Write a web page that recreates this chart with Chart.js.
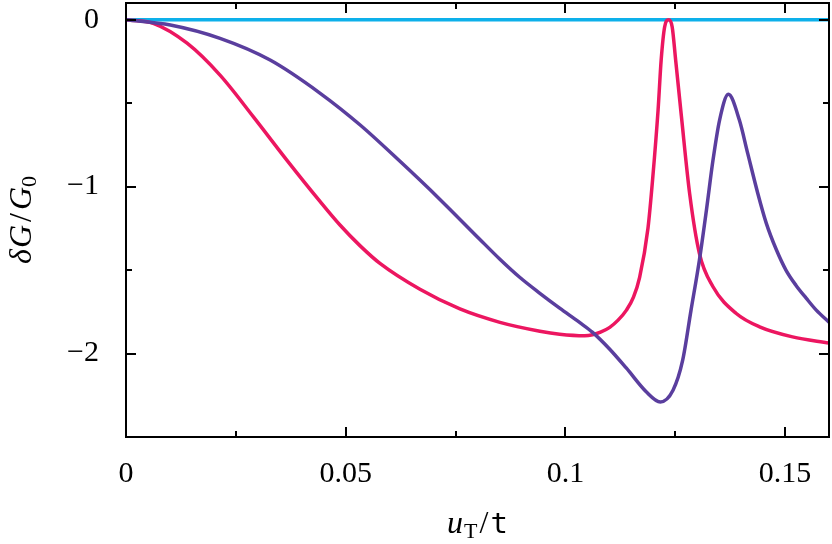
<!DOCTYPE html>
<html>
<head>
<meta charset="utf-8">
<title>dG/G0 vs uT/t</title>
<script src="https://cdn.jsdelivr.net/npm/chart.js@4.4.1/dist/chart.umd.min.js"></script>
<style>
  body { margin: 0; background: #fff; }
</style>
</head>
<body>
<canvas id="myChart" width="832" height="544"></canvas>
<script>
  // values
  const cyanX = [0, 0.16];
  const cyanY = [0, 0];

  const redX = [0, 0.0062, 0.0139, 0.0214, 0.0290, 0.0366, 0.0442, 0.0487, 0.0533, 0.0578, 0.0669,
    0.0760, 0.0851, 0.0942, 0.0987, 0.1044, 0.1062, 0.1080, 0.1101, 0.1120, 0.1139, 0.1155, 0.1169,
    0.1188, 0.1199, 0.1211, 0.1218, 0.1226, 0.1235, 0.1243, 0.1251, 0.1264, 0.1283, 0.1305, 0.1336,
    0.1389, 0.1442, 0.1517, 0.16];
  const redY = [0, -0.022, -0.141, -0.332, -0.582, -0.841, -1.090, -1.230, -1.355, -1.460, -1.615,
    -1.733, -1.813, -1.866, -1.884, -1.893, -1.887, -1.872, -1.843, -1.800, -1.740, -1.662, -1.543,
    -1.249, -0.943, -0.541, -0.242, -0.042, 0, -0.042, -0.242, -0.577, -1.045, -1.400, -1.600,
    -1.760, -1.840, -1.900, -1.937];

  const purpleX = [0, 0.0101, 0.0214, 0.0328, 0.0442, 0.0533, 0.0623, 0.0714, 0.0805, 0.0851, 0.0896,
    0.0942, 0.0987, 0.1033, 0.1062, 0.1101, 0.1139, 0.1184, 0.1216, 0.1245, 0.1267, 0.1286, 0.1305,
    0.1321, 0.1336, 0.1351, 0.1371, 0.1396, 0.1415, 0.1438, 0.1457, 0.1480, 0.1502, 0.1525, 0.1548,
    0.1571, 0.16];
  const purpleY = [0, -0.032, -0.112, -0.242, -0.441, -0.631, -0.847, -1.075, -1.315, -1.435, -1.543,
    -1.639, -1.728, -1.815, -1.873, -1.974, -2.088, -2.229, -2.290, -2.220, -2.040, -1.740, -1.441,
    -1.141, -0.841, -0.601, -0.447, -0.601, -0.801, -1.041, -1.217, -1.377, -1.500, -1.592, -1.668,
    -1.740, -1.812];

  const xTickLabels = ['0', '0.05', '0.1', '0.15'];
  const yTickLabels = ['0', '−1', '−2'];

  const toPoints = (xs, ys) => xs.map((x, i) => ({x: x, y: ys[i]}));

  const serif = '"Liberation Serif", "DejaVu Serif", serif';

  // gnuplot-like frame with inward ticks on all four sides
  const frameTicks = {
    id: 'frameTicks',
    afterDatasetsDraw(chart) {
      const {ctx, chartArea: a, scales: {x, y}} = chart;
      ctx.save();
      ctx.strokeStyle = '#000';
      ctx.lineWidth = 2;
      ctx.beginPath();
      x.ticks.forEach(t => {
        const px = Math.round(x.getPixelForValue(t.value));
        const major = Math.abs(t.value * 20 - Math.round(t.value * 20)) < 1e-6;
        const len = major ? 10 : 6;
        ctx.moveTo(px, a.bottom); ctx.lineTo(px, a.bottom - len);
        ctx.moveTo(px, a.top); ctx.lineTo(px, a.top + len);
      });
      y.ticks.forEach(t => {
        const py = Math.round(y.getPixelForValue(t.value));
        const major = Number.isInteger(t.value);
        const len = major ? 10 : 6;
        ctx.moveTo(a.left, py); ctx.lineTo(a.left + len, py);
        ctx.moveTo(a.right, py); ctx.lineTo(a.right - len, py);
      });
      ctx.stroke();
      ctx.strokeRect(a.left, a.top, a.right - a.left, a.bottom - a.top);
      ctx.restore();
    }
  };

  // axis titles with sub-scripts
  function drawParts(ctx, parts, x0, y0) {
    let x = x0;
    parts.forEach(p => {
      ctx.font = p.font;
      ctx.fillText(p.t, x, y0 + (p.dy || 0));
      x += ctx.measureText(p.t).width + (p.gap || 0);
    });
  }
  function partsWidth(ctx, parts) {
    return parts.reduce((w, p) => { ctx.font = p.font; return w + ctx.measureText(p.t).width + (p.gap || 0); }, 0);
  }

  const axisTitles = {
    id: 'axisTitles',
    afterDraw(chart) {
      const {ctx, chartArea: a} = chart;
      ctx.save();
      ctx.fillStyle = '#000';
      ctx.textBaseline = 'alphabetic';
      ctx.textAlign = 'left';

      const xParts = [
        {t: 'u', font: 'italic 32px ' + serif, gap: 1},
        {t: 'T', font: '22px ' + serif, dy: 5, gap: 2},
        {t: '/', font: '32px ' + serif, gap: 2},
        {t: 't', font: '29px "DejaVu Sans Mono", monospace'}
      ];
      const xw = partsWidth(ctx, xParts);
      drawParts(ctx, xParts, (a.left + a.right) / 2 - xw / 2, 533);

      const yParts = [
        {t: 'δ', font: 'italic 32px ' + serif, gap: 1},
        {t: 'G', font: 'italic 32px ' + serif, gap: 3},
        {t: '/', font: '32px ' + serif, gap: 3},
        {t: 'G', font: 'italic 32px ' + serif},
        {t: '0', font: '22px ' + serif, dy: 5}
      ];
      const yw = partsWidth(ctx, yParts);
      ctx.translate(31, (a.top + a.bottom) / 2);
      ctx.rotate(-Math.PI / 2);
      drawParts(ctx, yParts, -yw / 2, 0);
      ctx.restore();
    }
  };

  const ctx = document.getElementById('myChart').getContext('2d');
  const myChart = new Chart(ctx, {
    type: 'line',
    data: {
      datasets: [
        {
          label: 'purple',
          data: toPoints(purpleX, purpleY),
          borderColor: '#5a3e9e',
          borderWidth: 3.5,
          pointRadius: 0,
          cubicInterpolationMode: 'monotone',
          fill: false
        },
        {
          label: 'red',
          data: toPoints(redX, redY),
          borderColor: '#ec1660',
          borderWidth: 3.5,
          pointRadius: 0,
          cubicInterpolationMode: 'monotone',
          fill: false
        },
        {
          label: 'cyan',
          data: toPoints(cyanX, cyanY),
          borderColor: '#0db0ea',
          borderWidth: 3.5,
          pointRadius: 0,
          fill: false
        }
      ]
    },
    options: {
      responsive: false,
      animation: false,
      layout: {padding: {top: 3, right: 3, left: 0, bottom: 0}},
      plugins: {legend: {display: false}, tooltip: {enabled: false}},
      scales: {
        x: {
          type: 'linear',
          min: 0,
          max: 0.16,
          grid: {display: false, drawTicks: false},
          border: {display: false},
          ticks: {
            stepSize: 0.025,
            includeBounds: false,
            autoSkip: false,
            maxRotation: 0,
            padding: 19,
            color: '#000',
            font: {family: serif, size: 30},
            callback: v => {
              const k = Math.round(v * 20);
              return Math.abs(v * 20 - k) < 1e-6 ? (xTickLabels[k] || '') : '';
            }
          },
          afterFit: s => { s.height = 107; s.paddingLeft = 0; s.paddingRight = 0; }
        },
        y: {
          min: -2.5,
          max: 0.1,
          grid: {display: false, drawTicks: false},
          border: {display: false},
          ticks: {
            stepSize: 0.5,
            includeBounds: false,
            autoSkip: false,
            padding: 27,
            color: '#000',
            font: {family: serif, size: 30},
            callback: v => Number.isInteger(v) ? (yTickLabels[-v] || '') : ''
          },
          afterFit: s => { s.width = 126; s.paddingTop = 0; s.paddingBottom = 0; }
        }
      }
    },
    plugins: [frameTicks, axisTitles]
  });
</script>
</body>
</html>
